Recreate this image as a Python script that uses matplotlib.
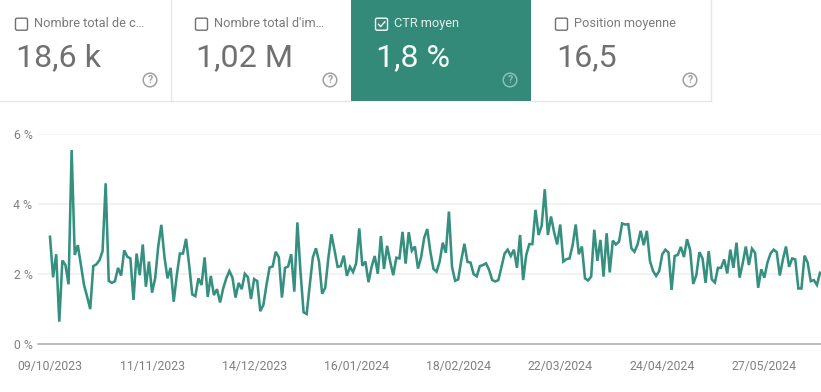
import matplotlib
matplotlib.use("Agg")
import matplotlib.pyplot as plt
import matplotlib.dates as mdates
import pandas as pd
from matplotlib.patches import Rectangle, FancyBboxPatch, Circle

plt.rcParams['font.family'] = ['Roboto', 'DejaVu Sans']

start_date = "2023-10-09"
ctr = [3.06,1.90,2.56,0.63,2.38,2.25,1.70,5.54,2.54,2.82,2.25,1.68,1.35,0.99,2.22,2.27,2.39,2.65,4.59,1.80,
       1.74,1.79,2.17,1.95,2.67,2.49,2.44,1.25,2.58,1.96,2.84,1.63,2.35,1.46,1.87,2.78,3.40,2.49,1.87,2.17,
       1.20,1.96,2.58,2.58,3.00,2.25,1.41,1.36,1.87,1.68,2.47,1.34,1.94,1.39,1.56,1.18,1.58,1.87,2.08,1.89,
       1.32,1.74,1.56,2.00,1.90,1.28,1.85,1.79,0.93,1.11,1.68,2.18,2.21,2.63,2.47,1.32,2.17,2.21,2.56,1.49,
       3.47,2.06,0.90,0.85,1.68,2.47,2.73,2.35,1.43,1.60,2.44,3.13,2.68,2.20,2.22,2.52,1.94,2.20,2.05,2.30,
       3.30,2.23,2.35,1.76,2.20,2.51,2.00,3.08,2.14,2.80,2.35,1.96,2.46,2.44,3.20,2.29,3.19,2.66,2.78,2.15,
       2.47,3.03,3.28,2.63,2.14,2.06,2.35,2.89,2.60,3.78,2.20,1.80,1.84,2.39,2.86,2.34,2.32,1.99,1.93,2.22,
       2.25,2.30,2.11,1.82,1.78,1.82,2.20,2.58,2.69,2.51,2.69,2.17,3.11,1.82,2.54,2.85,2.85,3.83,3.11,3.38,
       4.42,3.11,3.64,3.20,2.84,3.41,2.35,2.42,2.44,2.82,3.41,2.56,2.78,1.87,1.81,1.92,3.26,2.37,2.97,1.92,
       3.16,2.04,2.95,2.84,2.92,3.44,3.41,3.42,2.73,2.63,2.84,3.23,2.82,3.23,2.37,2.08,1.94,2.08,2.56,2.69,
       2.61,1.54,2.51,2.54,2.77,2.48,2.99,2.68,1.71,1.96,2.62,2.44,1.74,2.65,1.84,1.75,2.17,2.17,2.41,2.01,
       2.69,2.17,2.89,1.89,2.30,2.78,2.25,2.72,2.60,1.60,2.13,1.89,2.32,2.58,2.69,2.62,1.95,2.41,2.78,2.20,
       2.44,2.41,1.58,1.58,2.52,2.32,1.79,1.82,1.68,2.03]
tick_dates = ["2023-10-09","2023-11-11","2023-12-14","2024-01-16","2024-02-18","2024-03-22","2024-04-24","2024-05-27"]
tick_labels = ["09/10/2023","11/11/2023","14/12/2023","16/01/2024","18/02/2024","22/03/2024","24/04/2024","27/05/2024"]
y_ticks = [0, 2, 4, 6]
y_labels = ["0 %", "2 %", "4 %", "6 %"]
card_titles = ["Nombre total de c…", "Nombre total d'im…", "CTR moyen", "Position moyenne"]
card_values = ["18,6 k", "1,02 M", "1,8 %", "16,5"]
card_active = [False, False, True, False]

GREEN = "#338a78"
LINE = "#2b8a78"
W, H = 821, 392
fig = plt.figure(figsize=(W/100, H/100), dpi=100, facecolor="white")

ov = fig.add_axes([0, 0, 1, 1])
ov.set_xlim(0, W); ov.set_ylim(H, 0); ov.axis("off")
edges = [-9, 171, 351, 531, 711]
for k in range(4):
    x0, x1 = edges[k], edges[k+1]
    active = card_active[k]
    ov.add_patch(Rectangle((x0, -2), x1-x0, 102.5, facecolor=GREEN if active else "white",
                           edgecolor="none", zorder=1))
    ov.add_patch(FancyBboxPatch((x0+24.5, 18.2), 12, 12, boxstyle="round,pad=0,rounding_size=1.6",
                                fc="none", ec="white" if active else "#707070", lw=1.0, zorder=3))
    if active:
        ov.plot([x0+27.5, x0+29.7, x0+33.8], [24.3, 26.6, 21.8], color="white", lw=1.0, zorder=3)
    ov.text(x0+43, 23, card_titles[k], fontsize=9.2, color="#e3f0ed" if active else "#7a7a7a",
            va="center", ha="left", zorder=3)
    ov.text(x0+25, 58, card_values[k], fontsize=23.2, color="#f6fbfa" if active else "#707070",
            va="center", ha="left", zorder=3)
    qc = "#8cc0b4" if active else "#a0a0a0"
    ov.add_patch(Circle((x0+159, 80), 6.8, fc="none", ec=qc, lw=1.1, zorder=3))
    ov.text(x0+159, 80.2, "?", fontsize=7.5, color=qc, ha="center", va="center", fontweight="bold", zorder=3)
for x in [170.5, 711]:
    ov.plot([x, x], [0, 100.5], color="#e6e6e6", lw=1, zorder=2)
ov.plot([0, 351], [100.5, 100.5], color="#e6e6e6", lw=1, zorder=2)
ov.plot([531, 711], [100.5, 100.5], color="#e6e6e6", lw=1, zorder=2)

left, right, top, bottom = 38, 821, 134, 343.7
ax = fig.add_axes([left/W, 1-bottom/H, (right-left)/W, (bottom-top)/H])
ax.patch.set_alpha(0)
dates = pd.date_range(start_date, periods=len(ctr), freq="D")
px_per_day = 102.05 / 33
d0 = mdates.date2num(pd.Timestamp(start_date))
ax.set_xlim(d0 - (50-left)/px_per_day, d0 + (right-50)/px_per_day)
ax.set_ylim(0, 6)
for s in ax.spines.values():
    s.set_visible(False)
ax.spines["bottom"].set_visible(True)
ax.spines["bottom"].set_color("#a8a8a8")
ax.spines["bottom"].set_linewidth(1.1)
ax.set_yticks(y_ticks, y_labels)
ax.set_xticks([mdates.date2num(pd.Timestamp(d)) for d in tick_dates], tick_labels)
ax.tick_params(axis="both", length=0, colors="#808080", labelsize=8.8)
ax.tick_params(axis="y", pad=4)
ax.tick_params(axis="x", pad=12)
for y in y_ticks[1:]:
    ax.axhline(y, color="#efefef", lw=1.1, zorder=1)
ax.plot(dates, ctr, color=LINE, lw=1.85, alpha=0.95, solid_joinstyle="miter", zorder=3, clip_on=False)

fig.savefig("out.png", dpi=100)
